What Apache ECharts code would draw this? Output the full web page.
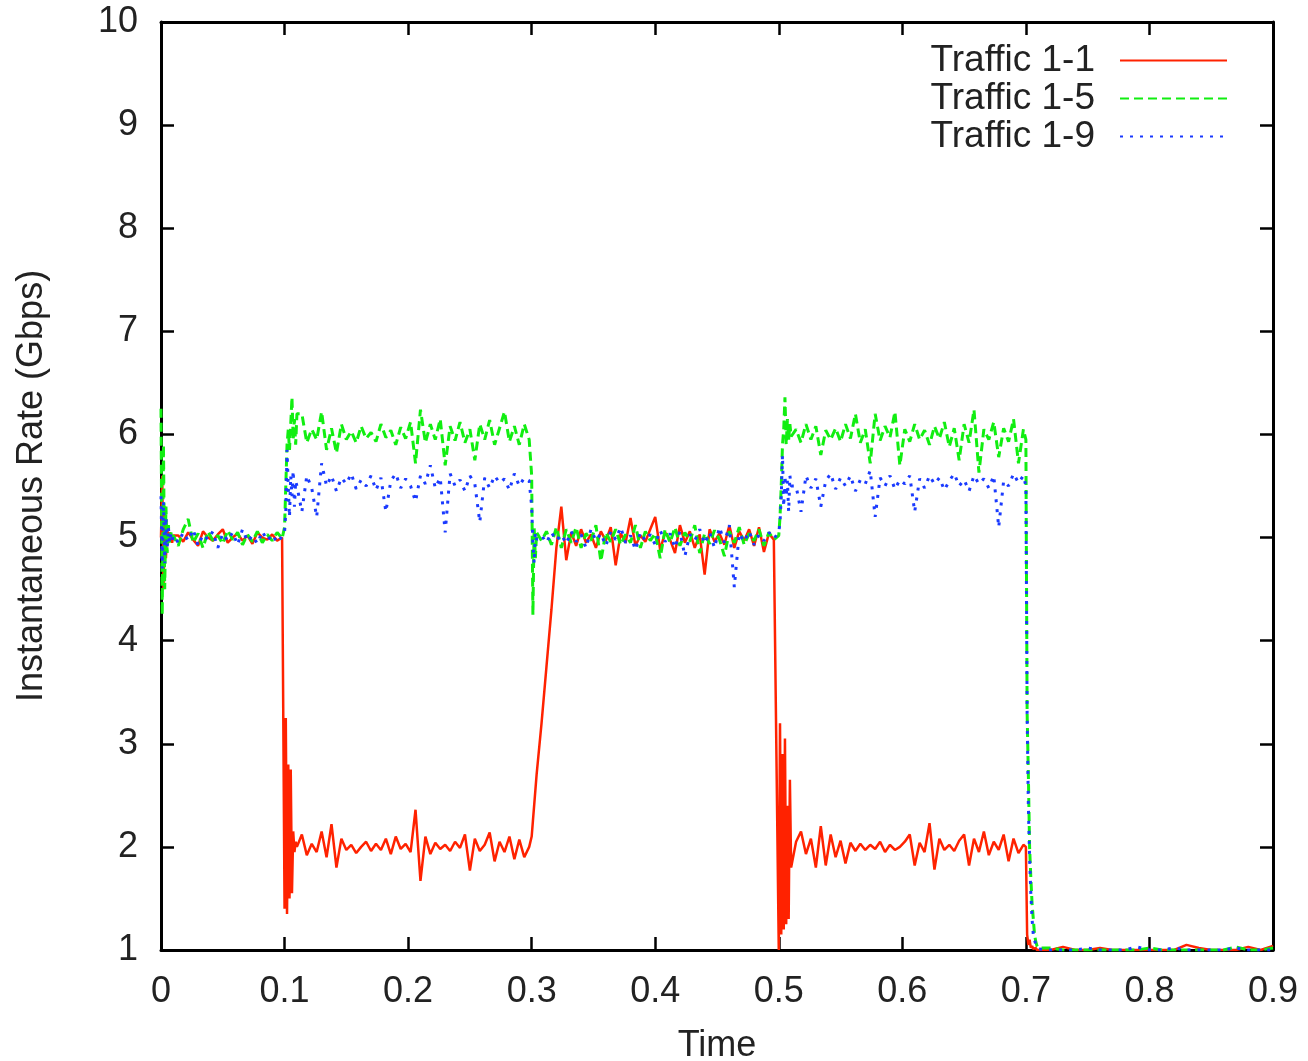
<!DOCTYPE html>
<html>
<head>
<meta charset="utf-8">
<title>Instantaneous Rate</title>
<script src="https://cdn.jsdelivr.net/npm/echarts@6/dist/echarts.min.js"></script>
<style>
  html, body { margin: 0; padding: 0; background: #fff; }
  #chart { width: 1308px; height: 1061px; }
</style>
</head>
<body>
<div id="chart"></div>
<script>
// sample times (s), finer around the switching points
var times = [
  0, 0.001, 0.002, 0.003, 0.004, 0.005, 0.006, 0.007, 0.008, 0.009, 0.010,
  0.014, 0.018, 0.022, 0.026, 0.030, 0.034, 0.038, 0.042, 0.046, 0.050, 0.054, 0.058, 0.062, 0.066, 0.070, 0.074, 0.078, 0.082, 0.086, 0.090, 0.094, 0.098,
  0.100, 0.101, 0.102, 0.103, 0.104, 0.105, 0.106, 0.107, 0.108, 0.109, 0.110,
  0.114, 0.118, 0.122, 0.126, 0.130, 0.134, 0.138, 0.142, 0.146, 0.150,
  0.154, 0.158, 0.162, 0.166, 0.170, 0.174, 0.178, 0.182, 0.186, 0.190,
  0.194, 0.198, 0.202, 0.206, 0.210, 0.214, 0.218, 0.222, 0.226, 0.230,
  0.234, 0.238, 0.242, 0.246, 0.250, 0.254, 0.258, 0.262, 0.266, 0.270,
  0.274, 0.278, 0.282, 0.286, 0.290, 0.294, 0.298,
  0.300, 0.301, 0.302, 0.303, 0.304,
  0.308, 0.312, 0.316, 0.320, 0.324, 0.328,
  0.332, 0.336, 0.340, 0.344, 0.348, 0.352, 0.356, 0.360, 0.364, 0.368,
  0.372, 0.376, 0.380, 0.384, 0.388, 0.392, 0.396, 0.400, 0.404, 0.408,
  0.412, 0.416, 0.420, 0.424, 0.428, 0.432, 0.436, 0.440, 0.444, 0.448,
  0.452, 0.456, 0.460, 0.464, 0.468, 0.472, 0.476, 0.480, 0.484, 0.488,
  0.492, 0.496,
  0.500, 0.501, 0.502, 0.503, 0.504, 0.505, 0.506, 0.507, 0.508, 0.509, 0.510,
  0.514, 0.518, 0.522, 0.526, 0.530, 0.534, 0.538, 0.542, 0.546, 0.550,
  0.554, 0.558, 0.562, 0.566, 0.570, 0.574, 0.578, 0.582, 0.586, 0.590,
  0.594, 0.598, 0.602, 0.606, 0.610, 0.614, 0.618, 0.622, 0.626, 0.630,
  0.634, 0.638, 0.642, 0.646, 0.650, 0.654, 0.658, 0.662, 0.666, 0.670,
  0.674, 0.678, 0.682, 0.686, 0.690, 0.694, 0.698,
  0.700, 0.701, 0.702, 0.703, 0.704, 0.705, 0.706, 0.707, 0.708, 0.709, 0.710,
  0.72, 0.73, 0.74, 0.75, 0.76, 0.77, 0.78, 0.79, 0.80, 0.81,
  0.82, 0.83, 0.84, 0.85, 0.86, 0.87, 0.88, 0.89, 0.90
];

// Traffic 1-1 (Gbps)
var traffic11 = [
  5.0, 5.6, 4.5, 5.3, 4.8, 5.1, 4.95, 5.05, 5.0, 4.95, 5.02,
  5.02, 4.96, 5.05, 4.98, 4.92, 5.06, 5.0, 4.97, 5.03, 5.08, 4.95, 5.0, 5.04, 4.97, 5.02, 4.94, 5.05, 5.0, 4.98, 5.03, 4.97, 5.0,
  1.4, 3.25, 1.35, 2.8, 1.5, 2.75, 1.55, 2.15, 1.95, 2.05, 2.0,
  2.12, 1.92, 2.03, 1.95, 2.15, 1.9, 2.22, 1.8, 2.08, 1.97,
  2.02, 1.94, 2.0, 2.05, 1.96, 2.03, 1.97, 2.08, 1.93, 2.1,
  1.98, 2.03, 1.95, 2.36, 1.67, 2.1, 1.93, 2.04, 1.98, 2.02,
  1.96, 2.05, 1.99, 2.12, 1.77, 2.08, 1.96, 2.02, 2.14, 1.86,
  2.05, 1.95, 2.1, 1.88, 2.07, 1.9, 2.0,
  2.1, 2.25, 2.4, 2.55, 2.7,
  3.2, 3.75, 4.3, 4.9, 5.3, 4.78,
  5.05, 4.92, 5.08, 4.95, 5.03, 4.9, 5.06, 4.97, 5.1, 4.73,
  5.04, 4.95, 5.19, 4.92, 5.02, 4.96, 5.08, 5.2, 4.88, 5.05,
  4.98, 4.85, 5.12, 4.95, 5.06, 4.9, 5.03, 4.64, 5.08, 4.96,
  5.04, 4.93, 5.12, 4.9, 5.06, 4.97, 5.08, 4.92, 5.1, 4.86,
  5.04, 4.98,
  1.0, 3.2, 1.15, 2.9, 1.2, 3.05, 1.25, 2.4, 1.3, 2.65, 1.8,
  2.05, 2.15, 1.93, 2.08, 1.8, 2.2, 1.82, 2.12, 1.9, 2.06,
  1.84, 2.04, 1.96, 2.03, 1.97, 2.02, 1.98, 2.05, 1.95, 2.02,
  1.97, 2.0, 2.05, 2.12, 1.82, 2.04, 1.95, 2.23, 1.78, 2.08,
  1.97, 2.02, 1.96, 2.06, 2.12, 1.82, 2.08, 1.95, 2.15, 1.92,
  2.05, 1.97, 2.12, 1.86, 2.08, 1.94, 2.02,
  2.0, 1.15, 1.05, 1.1, 1.02, 1.04, 1.01, 1.0, 1.02, 1.0, 1.0,
  1.0, 1.03, 1.0, 1.0, 1.02, 1.0, 1.0, 1.0, 1.0, 1.0,
  1.0, 1.05, 1.02, 1.0, 1.0, 1.0, 1.03, 1.0, 1.04
];

// Traffic 1-5 (Gbps)
var traffic15 = [
  6.25, 4.25, 5.9, 4.5, 5.3, 4.85, 5.12, 4.95, 5.05, 4.98, 5.02,
  4.92, 5.08, 5.18, 4.95, 5.04, 4.9, 5.06, 4.97, 5.02, 4.94, 5.07, 4.98, 5.05, 4.93, 5.03, 4.96, 5.06, 4.95, 5.03, 4.97, 5.05, 4.99,
  5.1, 5.5, 5.9, 6.05, 5.85, 6.1, 6.36, 5.95, 6.15, 5.9, 6.2,
  6.2, 5.92, 6.05, 5.95, 6.22, 5.85, 6.06, 5.82, 6.1, 5.95,
  6.03, 5.92, 6.08, 5.96, 6.02, 5.93, 6.1, 5.97, 6.04, 5.9,
  6.07, 5.96, 6.12, 5.72, 6.24, 5.92, 6.1, 5.95, 6.15, 5.7,
  6.08, 5.94, 6.12, 5.92, 6.05, 5.75, 6.1, 5.95, 6.14, 5.9,
  6.06, 6.22, 5.93, 6.08, 5.9, 6.1, 5.95,
  5.6, 4.25, 5.1, 4.8, 5.05,
  4.97, 5.06, 4.93, 5.1, 4.9, 5.08,
  4.95, 5.1, 4.9, 5.04, 4.97, 5.12, 4.77, 5.05, 4.96, 5.08,
  4.93, 5.03, 4.95, 5.12, 4.9, 5.06, 4.97, 5.04, 4.8, 5.08,
  4.95, 5.1, 4.92, 5.05, 4.96, 5.12, 4.85, 5.04, 4.94, 5.07,
  4.98, 4.82, 5.06, 4.95, 5.1, 4.93, 5.04, 4.97, 5.08, 4.92,
  5.05, 4.98,
  5.02, 5.2, 5.5, 5.9, 6.05, 6.36, 5.9, 6.15, 5.95, 6.1, 5.98,
  6.05, 5.92, 6.1, 5.95, 6.08, 5.8, 6.04, 5.95, 6.06, 5.93,
  6.1, 5.96, 6.2, 5.92, 6.05, 5.72, 6.2, 5.94, 6.08, 5.97,
  6.22, 5.7, 6.05, 5.93, 6.1, 5.95, 6.04, 5.9, 6.08, 5.96,
  6.12, 5.88, 6.06, 5.75, 6.1, 5.92, 6.24, 5.63, 6.05, 5.95,
  6.12, 5.78, 6.06, 5.93, 6.15, 5.72, 6.05,
  5.95, 3.3, 2.7, 2.0, 1.7, 1.45, 1.3, 1.15, 1.08, 1.04, 1.02,
  1.02, 1.0, 1.0, 1.0, 1.0, 1.0, 1.0, 1.0, 1.02, 1.0,
  1.0, 1.0, 1.0, 1.0, 1.0, 1.03, 1.0, 1.0, 1.02
];

// Traffic 1-9 (Gbps)
var traffic19 = [
  5.4, 4.7, 5.35, 4.75, 5.2, 4.9, 5.1, 4.95, 5.03, 4.97, 5.02,
  4.95, 5.05, 4.97, 5.08, 4.92, 5.03, 4.98, 5.06, 4.9, 5.04, 4.97, 5.05, 4.93, 5.08, 4.96, 5.02, 4.94, 5.06, 4.97, 5.03, 4.95, 5.01,
  5.05, 5.25, 5.85, 5.5, 5.2, 5.6, 5.4, 5.65, 5.3, 5.55, 5.5,
  5.25, 5.6, 5.48, 5.2, 5.72, 5.5, 5.6, 5.45, 5.58, 5.52,
  5.62, 5.47, 5.56, 5.5, 5.6, 5.46, 5.58, 5.25, 5.55, 5.62,
  5.48, 5.57, 5.5, 5.35, 5.6, 5.52, 5.7, 5.48, 5.58, 5.05,
  5.62, 5.5, 5.56, 5.45, 5.6, 5.52, 5.15, 5.58, 5.48, 5.6,
  5.53, 5.57, 5.46, 5.62, 5.5, 5.58, 5.55,
  5.3, 4.95, 4.75, 5.05, 4.98,
  5.02, 4.95, 5.05, 4.97, 5.03, 4.94,
  5.06, 4.96, 5.03, 4.9, 5.08, 4.97, 5.04, 4.92, 5.06, 4.98,
  5.1, 4.95, 5.02, 4.88, 5.05, 4.97, 5.03, 4.93, 5.07, 4.96,
  5.04, 4.9, 5.06, 4.82, 5.03, 4.97, 5.08, 4.94, 5.05, 4.9,
  5.1, 4.95, 5.12, 4.52, 5.04, 4.96, 5.06, 4.93, 5.03, 4.97,
  5.05, 4.99,
  5.05, 5.15, 5.4, 5.8, 5.3, 5.6, 5.4, 5.55, 5.25, 5.6, 5.5,
  5.5, 5.25, 5.6, 5.48, 5.57, 5.3, 5.55, 5.62, 5.47, 5.58,
  5.5, 5.6, 5.45, 5.56, 5.52, 5.65, 5.2, 5.58, 5.5, 5.6,
  5.47, 5.56, 5.52, 5.6, 5.25, 5.57, 5.48, 5.6, 5.52, 5.58,
  5.46, 5.55, 5.62, 5.5, 5.56, 5.45, 5.6, 5.52, 5.57, 5.48,
  5.6, 5.1, 5.55, 5.5, 5.62, 5.53, 5.6,
  5.5, 3.3, 2.4, 1.9, 1.55, 1.3, 1.15, 1.1, 1.05, 1.03, 1.01,
  1.0, 1.0, 1.0, 1.02, 1.0, 1.0, 1.0, 1.03, 1.0, 1.0,
  1.02, 1.0, 1.0, 1.0, 1.0, 1.02, 1.0, 1.0, 1.0
];

var seriesNames = ['Traffic 1-1', 'Traffic 1-5', 'Traffic 1-9'];
var xTicks = [0, 0.9, 0.1];   // min, max, step
var yTicks = [1, 10, 1];

var FONT = '"Liberation Sans", Arial, Helvetica, sans-serif';
var FSIZE = 36;

function pairs(vals)
{
    if (vals.length !== times.length) {
        throw new Error('length mismatch ' + vals.length + ' vs ' + times.length);
    }
    return times.map(function (t, i) { return [t, vals[i]]; });
}

// one axis setup, used for the labelled axes and the mirrored ones
function axis(range, pos, showLabel, margin, extra)
{
    var a = {
        type: 'value',
        position: pos,
        min: range[0],
        max: range[1],
        interval: range[2],
        splitLine: { show: false },
        axisLine: { show: true, onZero: false, lineStyle: { color: '#000', width: 3 } },
        axisTick: { show: true, inside: true, length: 13, lineStyle: { color: '#000', width: 2.5 } },
        axisLabel: { show: showLabel, color: '#222', fontSize: FSIZE, fontFamily: FONT, margin: margin }
    };
    for (var k in extra) a[k] = extra[k];
    return a;
}

window.onload = function ()
{
    var myChart = echarts.init(document.getElementById('chart'), null, { renderer: 'canvas' });

    var option = {
        animation: false,
        backgroundColor: '#fff',
        grid: { left: 161, right: 35, top: 22, bottom: 111, containLabel: false, outerBoundsMode: 'none' },
        legend: {
            orient: 'vertical',
            right: 75,
            top: 37,
            align: 'right',
            itemWidth: 107,
            itemHeight: 14,
            itemGap: 1,
            // hide the marker dot, keep the line sample
            itemStyle: { opacity: 0 },
            textStyle: { color: '#222', fontSize: 37, fontFamily: FONT, lineHeight: 36, padding: [0, 20, 0, 0] },
            data: seriesNames
        },
        xAxis: [
            axis(xTicks, 'bottom', true, 24, {
                name: 'Time',
                nameLocation: 'middle',
                nameGap: 78,
                nameTextStyle: { color: '#222', fontSize: FSIZE, fontFamily: FONT }
            }),
            axis(xTicks, 'top', false, 8, {})
        ],
        yAxis: [
            axis(yTicks, 'left', true, 23, {
                name: 'Instantaneous Rate (Gbps)',
                nameLocation: 'middle',
                nameGap: 111,
                nameTextStyle: { color: '#222', fontSize: FSIZE, fontFamily: FONT }
            }),
            axis(yTicks, 'right', false, 8, {})
        ],
        series: [
            {
                name: seriesNames[0],
                type: 'line',
                data: pairs(traffic11),
                symbol: 'none',
                lineStyle: { color: '#ff2200', width: 2.5 },
                itemStyle: { color: '#ff2200' }
            },
            {
                name: seriesNames[1],
                type: 'line',
                data: pairs(traffic15),
                symbol: 'none',
                lineStyle: { color: '#11ee11', width: 3, type: [9, 5] },
                itemStyle: { color: '#11ee11' }
            },
            {
                name: seriesNames[2],
                type: 'line',
                data: pairs(traffic19),
                symbol: 'none',
                lineStyle: { color: '#1a3aff', width: 3, type: [3, 7] },
                itemStyle: { color: '#1a3aff' }
            }
        ]
    };
    myChart.setOption(option);
};
</script>
</body>
</html>
